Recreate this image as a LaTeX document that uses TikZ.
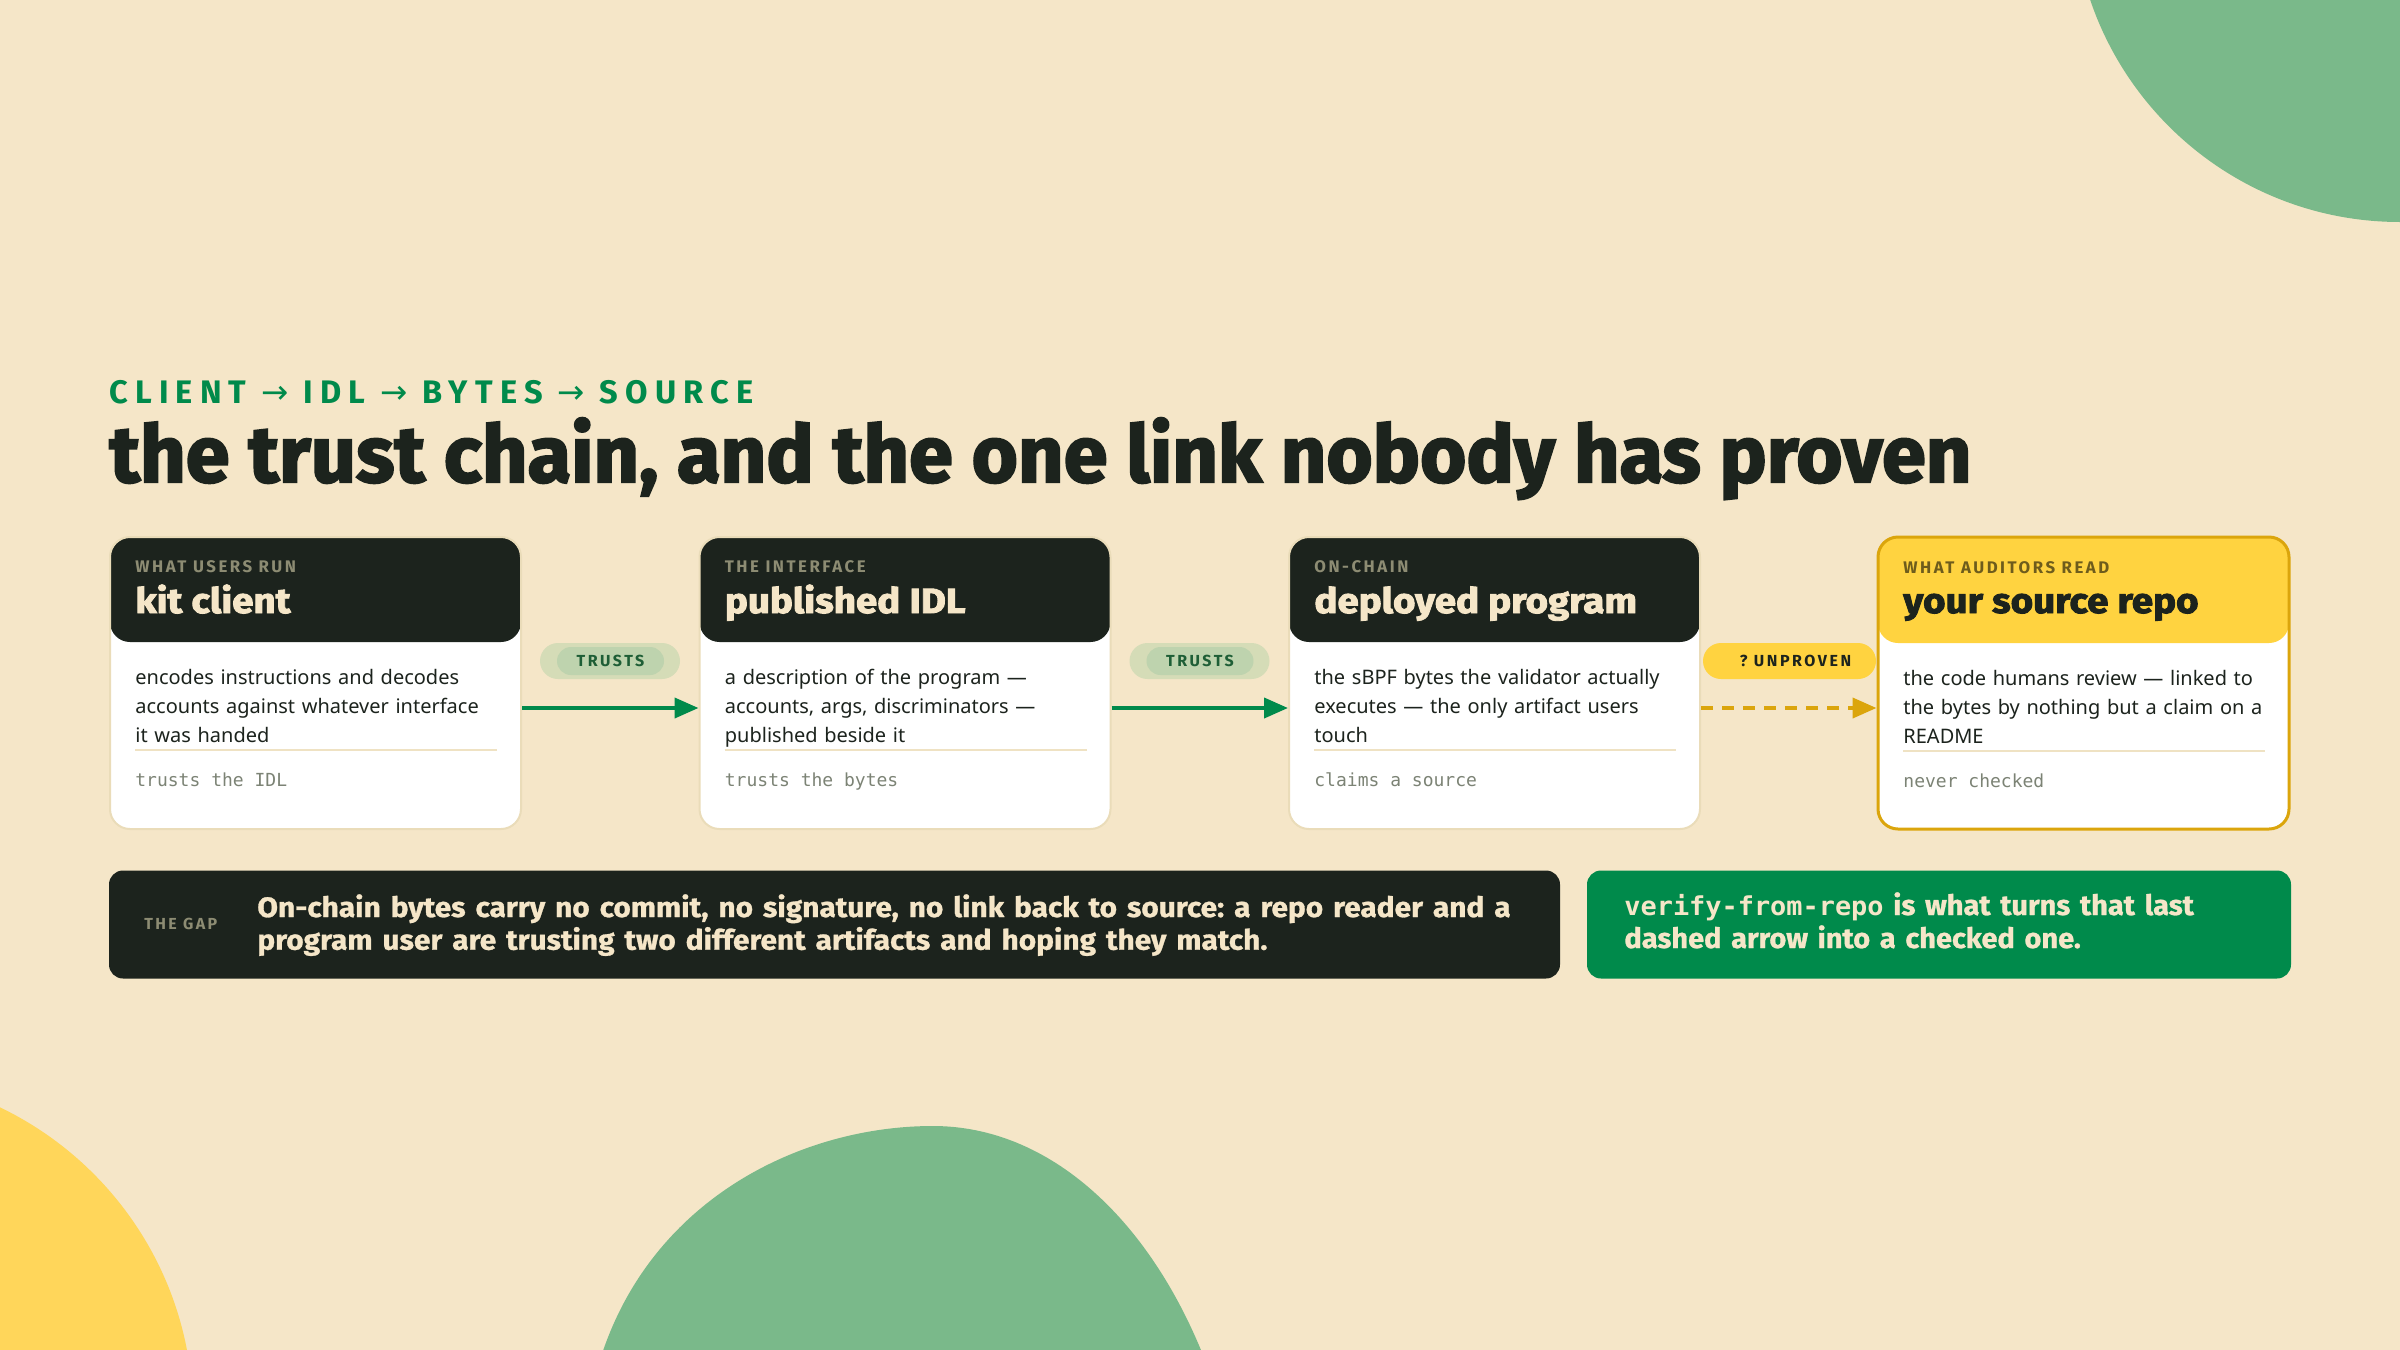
\documentclass[tikz,border=0pt]{standalone}
\usepackage{fontspec}
\usepackage{graphicx}
\setmainfont{Noto Sans}
\setmonofont{DejaVu Sans Mono}
\newfontfamily\titlefont{Fira Sans}[BoldFeatures={FakeBold=2.5}]
\newfontfamily\headfont{Fira Sans}[BoldFeatures={FakeBold=1}]
\newfontfamily\labelfont{Fira Sans}[LetterSpace=15]
\newfontfamily\pillfont{Fira Sans}[LetterSpace=16]
\newfontfamily\kickerfont{Fira Sans}[LetterSpace=22]
\newfontfamily\arrowfont{DejaVu Sans}[LetterSpace=22]
\usetikzlibrary{arrows.meta}
\definecolor{bg}{HTML}{F5E6C8}
\definecolor{ink}{HTML}{1C231D}
\definecolor{cream}{HTML}{F5E6C8}
\definecolor{brandgreen}{HTML}{008A4B}
\definecolor{sage}{HTML}{7AB98A}
\definecolor{sun}{HTML}{FFD340}
\definecolor{sunblob}{HTML}{FFD65A}
\definecolor{gold}{HTML}{DBA50C}
\definecolor{tanline}{HTML}{EFE2C3}
\definecolor{cardborder}{HTML}{EADCB9}
\definecolor{labelgrey}{HTML}{8D8C73}
\definecolor{monogrey}{HTML}{7C8375}
\definecolor{pillout}{HTML}{D5DCB7}
\definecolor{pillin}{HTML}{BED3AE}
\definecolor{pilltext}{HTML}{1E5E36}
\definecolor{sunlabel}{HTML}{6E5C1C}
\newcommand{\wide}[2]{\scalebox{#1}[1]{#2}}
\frenchspacing
\begin{document}
\begin{tikzpicture}[x=0.5pt,y=-0.5pt,
  card/.style={rectangle, rounded corners=10pt, minimum width=205.5pt, minimum height=146pt, inner sep=0pt, fill=white, draw=cardborder, line width=1pt},
  darkhead/.style={path picture={\fill[ink] (path picture bounding box.north west) rectangle ([yshift=-52.5pt]path picture bounding box.north east);}},
  sunhead/.style={path picture={\fill[sun] (path picture bounding box.north west) rectangle ([yshift=-53pt]path picture bounding box.north east);}},
  lbl/.style={anchor=base west, inner sep=0pt, font=\labelfont\bfseries\fontsize{8.4pt}{9pt}\selectfont, text=labelgrey},
  ttl/.style={anchor=base west, inner sep=0pt, font=\titlefont\bfseries\fontsize{17.5pt}{20pt}\selectfont, text=cream},
  body/.style={anchor=base west, inner sep=0pt, text width=185pt, align=left, font=\fontsize{10pt}{14.5pt}\selectfont, text=ink},
  mono/.style={anchor=base west, inner sep=0pt, font=\ttfamily\fontsize{9pt}{10pt}\selectfont, text=monogrey},
  sepline/.style={draw=tanline, line width=1pt},
  flow/.style={draw=brandgreen, line width=2pt, -{Triangle[length=12pt,width=10pt]}},
  dflow/.style={draw=gold, line width=2pt, dash pattern=on 6pt off 4.5pt, -{Triangle[length=12pt,width=10pt]}},
  pillbg/.style={fill=pillout, rounded corners=9pt, minimum width=70pt, minimum height=18pt, inner sep=0pt},
  pilltag/.style={fill=pillin, rounded corners=7pt, minimum width=53.5pt, minimum height=14pt, inner sep=0pt, font=\pillfont\bfseries\fontsize{8pt}{9pt}\selectfont, text=pilltext},
  bar/.style={rounded corners=7pt, minimum height=54pt, inner sep=0pt},
  bartext/.style={anchor=base west, inner sep=0pt, text width=660pt, align=left, text=cream, font=\headfont\bfseries\fontsize{14pt}{15.75pt}\selectfont}
]
\useasboundingbox (0,0) rectangle (2400,1350);
\fill[bg] (0,0) rectangle (2400,1350);
\begin{scope}
  \clip (0,0) rectangle (2400,1350);
  \fill[sage] (2400,-105) circle[radius=163.5pt];
  \fill[sunblob] (-147,1414) circle[radius=170pt];
  \fill[sage] (600,1360) .. controls (650,1200) and (800,1126) .. (933,1126)
     .. controls (1050,1126) and (1150,1220) .. (1205,1360) -- cycle;
\end{scope}

% heading
\node[anchor=base west, inner sep=0pt, text=brandgreen] (kicker) at (109,403)
  {\resizebox{322pt}{!}{\kickerfont\bfseries\fontsize{14pt}{16pt}\selectfont CLIENT {\arrowfont\mdseries →} IDL {\arrowfont\mdseries →} BYTES {\arrowfont\mdseries →} SOURCE}};
\node[anchor=base west, inner sep=0pt, text=ink] (title) at (109,482)
  {\resizebox{931pt}{!}{\titlefont\bfseries\fontsize{34pt}{40pt}\selectfont the trust chain, and the one link nobody has proven}};

% cards
\node[card, darkhead] (c1) at (315.5,683) {};
\node[card, darkhead] (c2) at (905,683) {};
\node[card, darkhead] (c3) at (1494.5,683) {};
\node[card, sunhead, draw=gold, line width=1.5pt] (c4) at (2083.5,683) {};

% card 1
\node[lbl] (c1l) at (135,572) {WHAT USERS RUN};
\node[ttl] (c1t) at (135,613) {\wide{1.1}{kit client}};
\node[body] (c1b) at (135,684) {encodes instructions and decodes\\accounts against whatever interface\\it was handed};
\draw[sepline] (135,750) -- (497,750);
\node[mono] (c1m) at (135,786) {trusts the IDL};

% card 2
\node[lbl] (c2l) at (724.5,572) {THE INTERFACE};
\node[ttl] (c2t) at (724.5,613) {\wide{1.1}{published IDL}};
\node[body] (c2b) at (724.5,684) {a description of the program —\\accounts, args, discriminators —\\published beside it};
\draw[sepline] (724.5,750) -- (1086.5,750);
\node[mono] (c2m) at (724.5,786) {trusts the bytes};

% card 3
\node[lbl] (c3l) at (1314,572) {ON-CHAIN};
\node[ttl] (c3t) at (1314,613) {\wide{1.1}{deployed program}};
\node[body] (c3b) at (1314,684) {the sBPF bytes the validator actually\\executes — the only artifact users\\touch};
\draw[sepline] (1314,750) -- (1676,750);
\node[mono] (c3m) at (1314,786) {claims a source};

% card 4
\node[lbl, text=sunlabel] (c4l) at (1903,573) {WHAT AUDITORS READ};
\node[ttl, text=ink] (c4t) at (1903,613) {\wide{1.1}{your source repo}};
\node[body] (c4b) at (1903,685) {the code humans review — linked to\\the bytes by nothing but a claim on a\\README};
\draw[sepline] (1903,751) -- (2265,751);
\node[mono] (c4m) at (1903,787) {never checked};

% pills
\node[pillbg] (p1bg) at (610,661) {};
\node[pilltag] (p1) at (610.5,661) {TRUSTS};
\node[pillbg] (p2bg) at (1199.5,661) {};
\node[pilltag] (p2) at (1200,661) {TRUSTS};
\node[fill=sun, rounded corners=9pt, minimum width=86.5pt, minimum height=18pt, inner sep=0pt,
      font=\pillfont\bfseries\fontsize{8pt}{9pt}\selectfont, text=ink] (p3) at (1789.5,661) {\hspace{6pt}? UNPROVEN};

% connectors
\draw[flow] ([yshift=-12.5pt]c1.east) -- ([yshift=-12.5pt]c2.west);
\draw[flow] ([yshift=-12.5pt]c2.east) -- ([yshift=-12.5pt]c3.west);
\draw[dflow] ([yshift=-12.5pt]c3.east) -- ([yshift=-12.5pt]c4.west);

% bottom bars
\node[bar, fill=ink, minimum width=725.5pt] (gap) at (834.5,924.5) {};
\node[anchor=west, inner sep=0pt, text=labelgrey, font=\labelfont\bfseries\fontsize{8pt}{9pt}\selectfont] (gapl) at (144,924) {THE GAP};
\node[bartext] (gapt) at (257,917) {\wide{1.065}{On-chain bytes carry no commit, no signature, no link back to source: a repo reader and a}\\[0.6pt]\wide{1.065}{program user are trusting two different artifacts and hoping they match.}};
\node[bar, fill=brandgreen, minimum width=352pt] (fix) at (1939,924.5) {};
\node[bartext, text width=330pt, font=\headfont\bfseries\fontsize{14pt}{16.5pt}\selectfont] (fixt) at (1624,915) {\wide{1.035}{{\ttfamily\bfseries\fontsize{13pt}{16.5pt}\selectfont verify-from-repo} is what turns that last}\\\wide{1.035}{dashed arrow into a checked one.}};
\end{tikzpicture}
\end{document}
